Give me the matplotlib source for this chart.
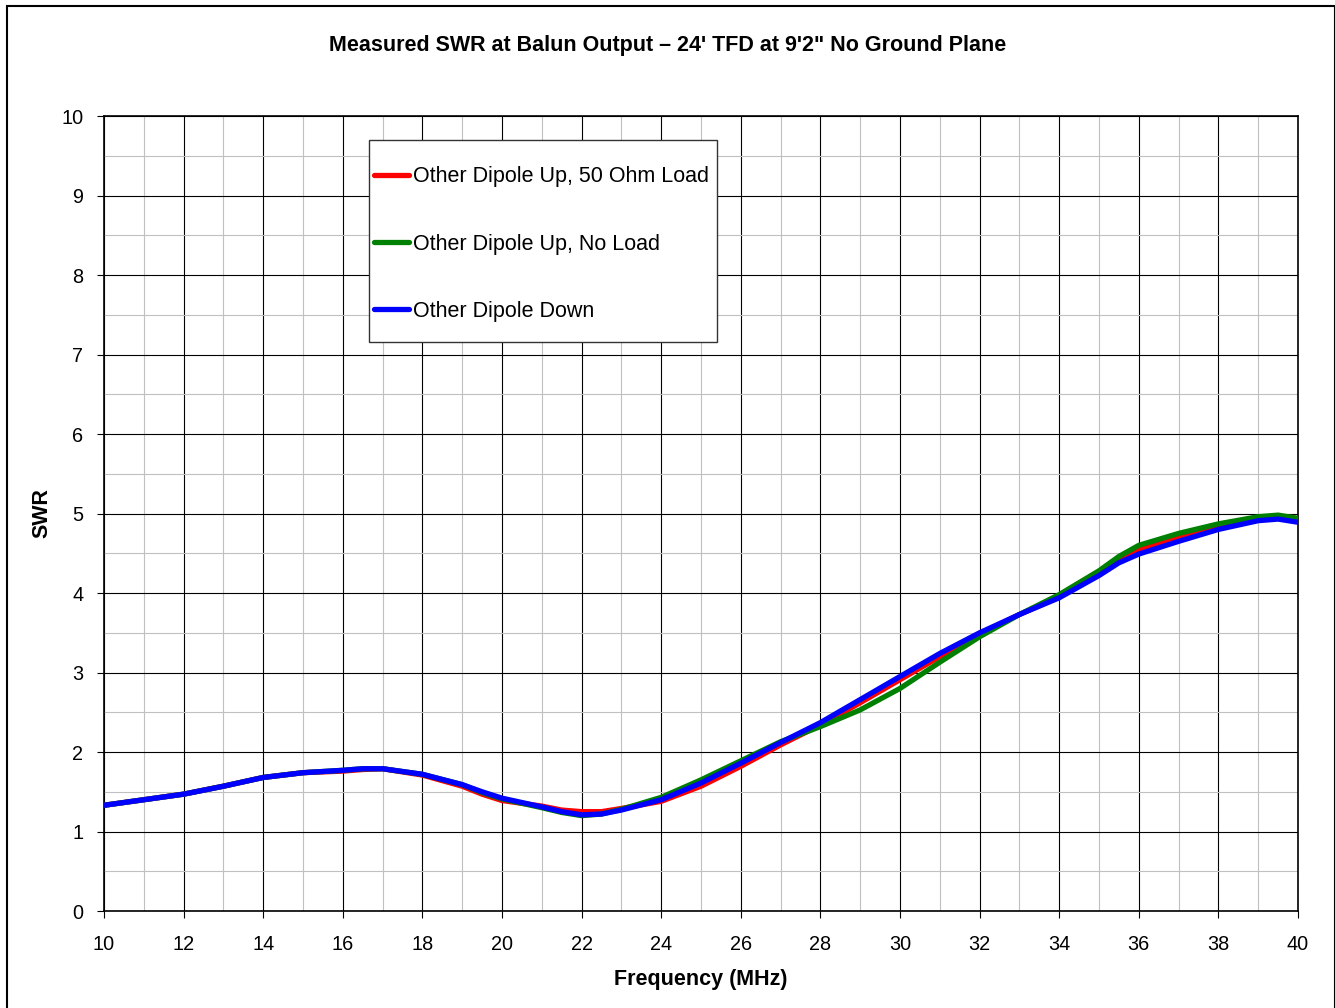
import matplotlib.pyplot as plt
from matplotlib.patches import Rectangle
from matplotlib.ticker import MultipleLocator

plt.rcParams['font.family'] = ['Liberation Sans', 'DejaVu Sans']

# frequency points in MHz
freq = [10, 11, 12, 13, 14, 15, 16, 16.5, 17, 18, 19, 19.5, 20, 21, 21.5, 22, 22.5,
        23, 24, 25, 26, 27, 28, 29, 30, 31, 32, 33, 34, 35, 35.5, 36, 37, 38, 39, 39.5, 40]

swr_50ohm = [1.33, 1.40, 1.47, 1.57, 1.68, 1.74, 1.76, 1.78, 1.79, 1.71, 1.57, 1.47, 1.39,
             1.32, 1.27, 1.25, 1.25, 1.29, 1.38, 1.57, 1.82, 2.09, 2.34, 2.62, 2.91, 3.20,
             3.48, 3.73, 3.95, 4.25, 4.42, 4.55, 4.71, 4.84, 4.93, 4.95, 4.91]
swr_noload = [1.33, 1.40, 1.47, 1.57, 1.68, 1.74, 1.77, 1.79, 1.79, 1.72, 1.59, 1.49, 1.41,
              1.30, 1.24, 1.20, 1.22, 1.28, 1.43, 1.65, 1.89, 2.13, 2.32, 2.53, 2.80, 3.13,
              3.45, 3.73, 3.98, 4.28, 4.46, 4.60, 4.75, 4.87, 4.96, 4.98, 4.94]
swr_down = [1.33, 1.40, 1.47, 1.57, 1.68, 1.74, 1.77, 1.79, 1.79, 1.72, 1.59, 1.50, 1.42,
            1.31, 1.25, 1.21, 1.22, 1.27, 1.40, 1.61, 1.86, 2.12, 2.37, 2.66, 2.95, 3.24,
            3.50, 3.73, 3.94, 4.22, 4.38, 4.49, 4.65, 4.80, 4.91, 4.93, 4.89]

labels = ["Other Dipole Up, 50 Ohm Load", "Other Dipole Up, No Load", "Other Dipole Down"]
colors = ['#ff0000', '#008000', '#0000ff']

fig = plt.figure(figsize=(13.35, 10.08), dpi=100)
ax = fig.add_axes([0.0779, 0.0962, 0.8944, 0.7887])

for y, lab, c in zip([swr_50ohm, swr_noload, swr_down], labels, colors):
    ax.plot(freq, y, color=c, lw=3.8, label=lab, solid_capstyle='round', zorder=3)

ax.set_xlim(10, 40)
ax.set_ylim(0, 10)
ax.xaxis.set_major_locator(MultipleLocator(2))
ax.xaxis.set_minor_locator(MultipleLocator(1))
ax.yaxis.set_major_locator(MultipleLocator(1))
ax.yaxis.set_minor_locator(MultipleLocator(0.5))
ax.grid(which='major', color='black', lw=0.8, zorder=1)
ax.grid(which='minor', color='#c0c0c0', lw=0.8, zorder=0)
ax.set_axisbelow(True)
ax.tick_params(which='major', direction='out', length=5, width=0.8, labelsize=14.3, pad=10)
ax.tick_params(axis='x', which='major', pad=12)
ax.tick_params(which='minor', length=0)
for s in ax.spines.values():
    s.set_linewidth(1.2)

ax.set_xlabel("Frequency (MHz)", fontsize=15.5, fontweight='bold', labelpad=11)
ax.set_ylabel("SWR", fontsize=15.5, fontweight='bold', labelpad=6)
fig.text(0.5, 0.955, "Measured SWR at Balun Output \u2013 24' TFD at 9'2\" No Ground Plane",
         ha='center', va='center', fontsize=15.5, fontweight='bold')

# legend frame drawn separately so the box can be taller than the entries
ax.add_patch(Rectangle((0.2219, 0.7157), 0.2915, 0.2541, transform=ax.transAxes,
                       facecolor='white', edgecolor='#333333', lw=1, zorder=4))
leg = ax.legend(loc='center left', bbox_to_anchor=(0.2219, 0.8390), frameon=False,
                fontsize=15.5, handlelength=1.6, handletextpad=0.2, labelspacing=2.15,
                borderpad=0.25, borderaxespad=0)
leg.set_zorder(5)

# outer chart border
fig.patches.append(Rectangle((7 / 1335, -0.01), 1 - 7.5 / 1335, 1 - 6 / 1008 + 0.01,
                             transform=fig.transFigure, fill=False, edgecolor='black', lw=1.5))

fig.savefig("out.png", dpi=100)
